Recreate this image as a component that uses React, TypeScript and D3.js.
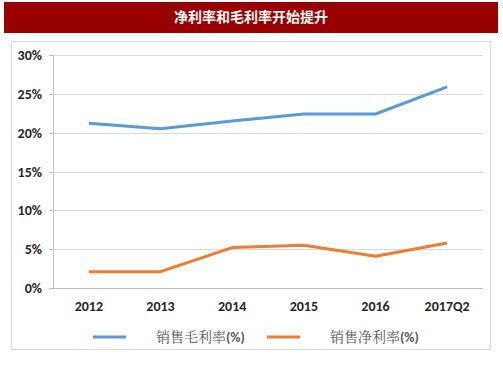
import React from "react";
import * as d3 from "d3";

const categories = ["2012", "2013", "2014", "2015", "2016", "2017Q2"];
const grossMargin = [21.2, 20.5, 21.5, 22.4, 22.4, 25.9];
const netMargin = [2.1, 2.1, 5.2, 5.5, 4.1, 5.8];
const yTicks = [0, 5, 10, 15, 20, 25, 30];
const title = "净利率和毛利率开始提升";
const seriesNames = ["销售毛利率", "销售净利率"];
const colors = ["#5B9BD5", "#ED7D31"];

export default function App() {
  const W = 503, H = 378;
  const left = 53, right = 483, top = 55, bottom = 288;
  const x = d3.scalePoint<string>().domain(categories).range([left, right]).padding(0.5);
  const y = d3.scaleLinear().domain([0, 30]).range([bottom, top]);
  const line = d3.line<number>().x((_, i) => x(categories[i]) as number).y((d) => y(d));
  const series = [grossMargin, netMargin];
  const latin = "Carlito, 'Liberation Sans', Arial, sans-serif";
  const cjk = "'Noto Sans CJK SC', sans-serif";
  return (
    <svg width={W} height={H} style={{ position: "absolute", left: 0, top: 0 }}>
      <rect x={0} y={0} width={W} height={H} fill="#fff" />
      <rect x={4} y={2} width={494} height={31} fill="#990000" />
      <text x={251} y={22} textAnchor="middle" fill="#fff" fontFamily={cjk} fontWeight="bold" fontSize={14}>
        {title}
      </text>
      <rect x={11.5} y={41.5} width={479} height={308} fill="#fff" stroke="#d9d9d9" />
      {yTicks.map((t) => (
        <g key={t}>
          <line x1={left} x2={right} y1={Math.round(y(t)) + 0.5} y2={Math.round(y(t)) + 0.5} stroke={t === 0 ? "#bfbfbf" : "#d9d9d9"} strokeWidth={1} />
          <line x1={left - 4} x2={left} y1={Math.round(y(t)) + 0.5} y2={Math.round(y(t)) + 0.5} stroke="#bfbfbf" />
          <text x={42} y={y(t) + 5} textAnchor="end" fontFamily={latin} fontWeight="bold" fontSize={14} fill="#262626">
            {t}%
          </text>
        </g>
      ))}
      <line x1={left + 0.5} x2={left + 0.5} y1={top} y2={bottom} stroke="#bfbfbf" />
      {categories.map((c) => (
        <text key={c} x={x(c)} y={311} textAnchor="middle" fontFamily={latin} fontWeight="bold" fontSize={14} fill="#262626">
          {c}
        </text>
      ))}
      {series.map((s, i) => (
        <path key={i} d={line(s) || ""} fill="none" stroke={colors[i]} strokeWidth={3} strokeLinejoin="round" />
      ))}
      {seriesNames.map((n, i) => {
        const lx = i === 0 ? 93 : 267;
        return (
          <g key={n}>
            <line x1={lx} x2={lx + 33} y1={337} y2={337} stroke={colors[i]} strokeWidth={3} />
            <text x={lx + 63} y={342} fontSize={14} fill="#595959">
              <tspan fontFamily="'Noto Serif CJK SC', 'Noto Sans CJK SC', serif">{n}</tspan>
              <tspan fontFamily={latin} fontWeight="bold">(%)</tspan>
            </text>
          </g>
        );
      })}
    </svg>
  );
}
